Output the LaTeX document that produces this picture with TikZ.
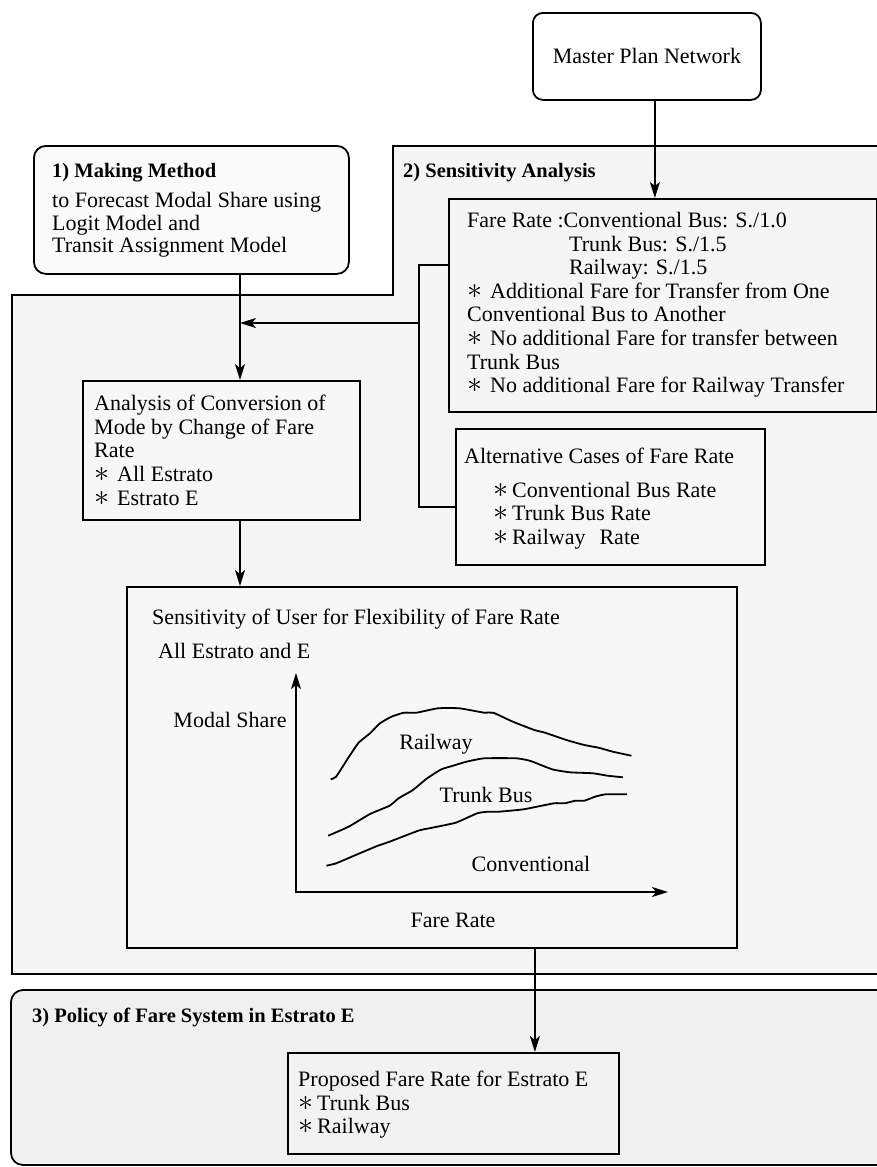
\documentclass[tikz,border=0pt]{standalone}
\usepackage{fontspec}
\usepackage{graphicx}
\setmainfont{Liberation Serif}
\usetikzlibrary{arrows.meta}
\definecolor{regtwo}{HTML}{F5F5F5}
\definecolor{regthree}{HTML}{F0F0F0}
\definecolor{boxone}{HTML}{FAFAFA}
\definecolor{boxfill}{HTML}{F7F7F7}
\definecolor{polfill}{HTML}{F2F2F2}
\newcommand\bigast{\smash{\scalebox{1.45}{$\ast$}}}
\begin{document}
\begin{tikzpicture}[x=1pt,y=-1pt,
  every node/.style={font=\fontsize{22}{23.6}\selectfont, inner sep=0pt},
  lw/.style={line width=1.8pt},
  box/.style={draw, line width=1.8pt, rectangle, anchor=north west},
  arr/.style={line width=1.8pt, -{Stealth[length=16pt,width=10pt,inset=4pt]}},
  hdr/.style={font=\fontsize{20.5}{24}\selectfont\bfseries, anchor=west},
  txt/.style={align=left, anchor=north west},
  lbl/.style={anchor=center},
]
\useasboundingbox (0,0) rectangle (877,1167);
\clip (0,0) rectangle (877,1167);

% regions
\draw[lw, fill=regtwo] (393,146) -- (900,146) -- (900,974) -- (12,974) -- (12,295) -- (393,295) -- cycle;
\draw[lw, fill=regthree, rounded corners=12pt] (11,990) rectangle (900,1165);
\node[hdr] (h2) at (403,173) {2) Sensitivity Analysis};
\node[hdr] (h3) at (32,1017) {3) Policy of Fare System in Estrato E};

% master plan
\node[box, fill=white, rounded corners=10pt, minimum width=228pt, minimum height=87pt] (m) at (532,12) {Master Plan Network};

% box 1
\node[box, fill=boxone, rounded corners=12pt, minimum width=315pt, minimum height=128pt] (b1) at (33,145) {};
\node[hdr] (h1) at (52,173) {1) Making Method};
\node[txt, font=\fontsize{22}{22.6}\selectfont] (t1) at (52,192) {to Forecast Modal Share using\\Logit Model and\\Transit Assignment Model};

% fare box
\node[box, fill=regtwo, minimum width=427.5pt, minimum height=213pt] (fare) at (448,198) {};
\node[txt] (tfare) at (467,212) {Fare Rate :Conventional Bus: S./1.0\\
\hspace*{102pt}Trunk Bus: S./1.5\\
\hspace*{102pt}Railway: S./1.5\\
\bigast\hspace{8pt}Additional Fare for Transfer from One\\
Conventional Bus to Another\\
\bigast\hspace{8pt}No additional Fare for transfer between\\
Trunk Bus\\
\bigast\hspace{8pt}No additional Fare for Railway Transfer};

% alternative box
\node[box, fill=boxfill, minimum width=309pt, minimum height=136pt] (alt) at (455,428) {};
\node[txt] (talt) at (464,448) {Alternative Cases of Fare Rate\\[10pt]
\hspace*{29pt}\bigast\hspace{4pt}Conventional Bus Rate\\
\hspace*{29pt}\bigast\hspace{4pt}Trunk Bus Rate\\
\hspace*{29pt}\bigast\hspace{4pt}Railway\hspace{14pt}Rate};

% analysis box
\node[box, fill=boxfill, minimum width=277pt, minimum height=139pt] (ana) at (82,380) {};
\node[txt] (tana) at (94,395) {Analysis of Conversion of\\Mode by Change of Fare\\Rate\\
\bigast\hspace{8pt}All Estrato\\\bigast\hspace{8pt}Estrato E};

% graph box
\node[box, fill=boxfill, minimum width=610pt, minimum height=361pt] (graph) at (126,586) {};
\node[anchor=west] (gt1) at (152,619) {Sensitivity of User for Flexibility of Fare Rate};
\node[anchor=west] (gt2) at (158,651) {All Estrato and E};
\node[lbl] (ms) at (230,720) {Modal Share};
\node[lbl] (lr) at (436,744) {Railway};
\node[lbl] (lt) at (486,795) {Trunk Bus};
\node[lbl] (lc) at (531,864) {Conventional};
\node[lbl] (fr) at (453,920) {Fare Rate};
\coordinate (o) at (296,892);
\coordinate (ytip) at (296,673);
\coordinate (xtip) at (668,892);
\draw[lw, {Stealth[length=16pt,width=10pt,inset=4pt]}-{Stealth[length=16pt,width=10pt,inset=4pt]}] (ytip) -- (o) -- (xtip);

\draw[lw, line join=round] plot[smooth, tension=0.3] coordinates {(330.7,779.3) (336.1,776.7) (348.6,757.3) (358.6,742.7) (370,733.3) (380,723.3) (391.4,716.7) (403.9,712.7) (416.4,712.7) (437.9,708.3) (459.3,708.3) (484.3,712.7) (493.2,712.7) (512.9,721.7) (534.3,730) (545,732.7) (566.4,740) (584.3,745) (598.6,747.7) (612.9,751.7) (631.4,755.7)};
\draw[lw, line join=round] plot[smooth, tension=0.3] coordinates {(328.2,835.7) (348.6,826.7) (370,814) (389.6,805.7) (398.6,798.3) (412.9,790) (427.1,778.3) (441.4,769.3) (452.1,766) (466.4,761.7) (484.3,758.3) (516.4,758.3) (530.7,761) (552.1,769.3) (570,772.3) (593.2,773.3) (607.5,775.7) (622.9,777.3)};
\draw[lw, line join=round] plot[smooth, tension=0.3] coordinates {(326.4,865.7) (336.1,863.3) (355.7,855) (377.1,846) (389.6,841.7) (418.2,830.7) (430.7,828) (455.7,822.7) (477.1,813.3) (487.9,811.7) (498.6,811.7) (523.6,809.3) (553.9,803.3) (564.6,803.3) (575.4,800.7) (584.3,800.7) (595,796.7) (605.7,794.3) (627.1,794.3)};

% policy box
\node[box, fill=polfill, minimum width=331pt, minimum height=101pt] (pol) at (287,1052) {};
\node[txt] (tpol) at (298,1071) {Proposed Fare Rate for Estrato E\\\bigast\hspace{4pt}Trunk Bus\\\bigast\hspace{4pt}Railway};

% connectors
\coordinate (join) at (240,323);
\coordinate (brk) at (419,323);
\draw[arr] ([xshift=8pt]m.south) -- ([xshift=8pt]m.south |- fare.north);
\draw[lw] (b1.south -| join) -- (join);
\draw[arr] (join) -- (join |- ana.north);
\draw[lw] ([yshift=40.5pt]fare.west) -| (brk) |- ([yshift=-10pt]alt.west);
\draw[arr] (brk) -- (join);
\draw[arr] (ana.south -| join) -- (join |- graph.north);
\draw[arr] ([xshift=103pt]graph.south) -- ([xshift=103pt]graph.south |- pol.north);
\end{tikzpicture}
\end{document}
